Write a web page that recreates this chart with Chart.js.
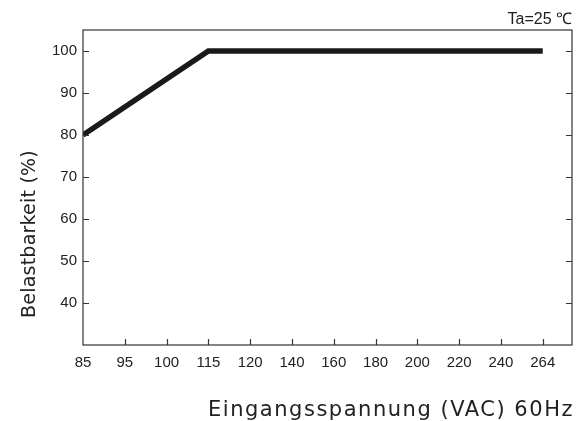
<!DOCTYPE html>
<html>
<head>
<meta charset="utf-8">
<script src="https://cdn.jsdelivr.net/npm/chart.js@4/dist/chart.umd.min.js"></script>
<style>
  html, body { margin: 0; padding: 0; background: #fff; }
  #wrap { width: 584px; height: 421px; }
</style>
</head>
<body>
<div id="wrap"><canvas id="chart"></canvas></div>
<script>
// Daten aus der Kurve (Belastbarkeit über Eingangsspannung)
const spannungLabels = ['85', '95', '100', '115', '120', '140', '160', '180', '200', '220', '240', '264'];
const belastbarkeit = [80, null, null, 100, 100, 100, 100, 100, 100, 100, 100, 100];
const yTickWerte = [40, 50, 60, 70, 80, 90, 100];

const frameColor = '#333';
const textColor = '#222';
const sansFont = '"Liberation Sans", Arial, sans-serif';

// Text mit Sperrung auf eine Zielbreite bringen
function spacedText(ctx, text, font, width) {
  ctx.font = font;
  ctx.letterSpacing = '0px';
  const base = ctx.measureText(text).width;
  ctx.letterSpacing = Math.max(0, (width - base) / text.length) + 'px';
}

// Rahmen, innere Ticks und Beschriftungen
const rahmenPlugin = {
  id: 'rahmen',
  afterDraw(chart) {
    const { ctx, chartArea: a, scales } = chart;
    ctx.save();
    ctx.strokeStyle = frameColor;
    ctx.lineWidth = 1.2;
    ctx.strokeRect(a.left, a.top, a.right - a.left, a.bottom - a.top);

    ctx.beginPath();
    yTickWerte.forEach(v => {
      const y = Math.round(scales.y.getPixelForValue(v)) + 0.5;
      ctx.moveTo(a.left, y); ctx.lineTo(a.left + 6, y);
      ctx.moveTo(a.right, y); ctx.lineTo(a.right - 6, y);
    });
    spannungLabels.forEach((l, i) => {
      if (i === 0) return;
      const x = Math.round(scales.x.getPixelForValue(i)) + 0.5;
      ctx.moveTo(x, a.bottom); ctx.lineTo(x, a.bottom - 6);
    });
    ctx.stroke();

    ctx.fillStyle = textColor;
    ctx.textBaseline = 'alphabetic';

    // Ta=25 ℃
    ctx.font = '16px ' + sansFont;
    ctx.textAlign = 'right';
    ctx.fillText('Ta=25 ℃', a.right, a.top - 6);

    // X-Achsentitel
    const xTitel = 'Eingangsspannung (VAC) 60Hz';
    spacedText(ctx, xTitel, '21px "DejaVu Sans", sans-serif', 366);
    ctx.textAlign = 'right';
    ctx.fillText(xTitel, a.right + 2, a.bottom + 71);

    // Y-Achsentitel
    const yTitel = 'Belastbarkeit (%)';
    spacedText(ctx, yTitel, '19px "DejaVu Sans", sans-serif', 168);
    ctx.translate(35, a.bottom - 111);
    ctx.rotate(-Math.PI / 2);
    ctx.textAlign = 'center';
    ctx.fillText(yTitel, 0, 0);
    ctx.restore();
  }
};

new Chart(document.getElementById('chart'), {
  type: 'line',
  data: {
    datasets: [{
      data: belastbarkeit.map((v, i) => ({ x: i, y: v })),
      borderColor: '#1a1a1a',
      borderWidth: 5.5,
      borderCapStyle: 'butt',
      pointRadius: 0,
      tension: 0,
      spanGaps: true
    }]
  },
  options: {
    responsive: true,
    maintainAspectRatio: false,
    animation: false,
    layout: { padding: { left: 0, top: 30, right: 12, bottom: 0 } },
    plugins: {
      legend: { display: false },
      tooltip: { enabled: false }
    },
    scales: {
      x: {
        type: 'linear',
        min: 0,
        max: 11.7,
        grid: { display: false, drawTicks: false },
        border: { display: false },
        afterBuildTicks(scale) { scale.ticks = spannungLabels.map((l, i) => ({ value: i })); },
        ticks: {
          color: textColor,
          padding: 9,
          maxRotation: 0,
          autoSkip: false,
          callback: (v) => spannungLabels[v],
          font: { family: sansFont, size: 15 }
        },
        afterFit(scale) { scale.height = 76; }
      },
      y: {
        min: 30,
        max: 105,
        grid: { display: false, drawTicks: false },
        border: { display: false },
        afterBuildTicks(scale) { scale.ticks = yTickWerte.map(v => ({ value: v })); },
        ticks: {
          color: textColor,
          padding: 6,
          font: { family: sansFont, size: 15 }
        },
        afterFit(scale) { scale.width = 83; }
      }
    }
  },
  plugins: [rahmenPlugin]
});
</script>
</body>
</html>
